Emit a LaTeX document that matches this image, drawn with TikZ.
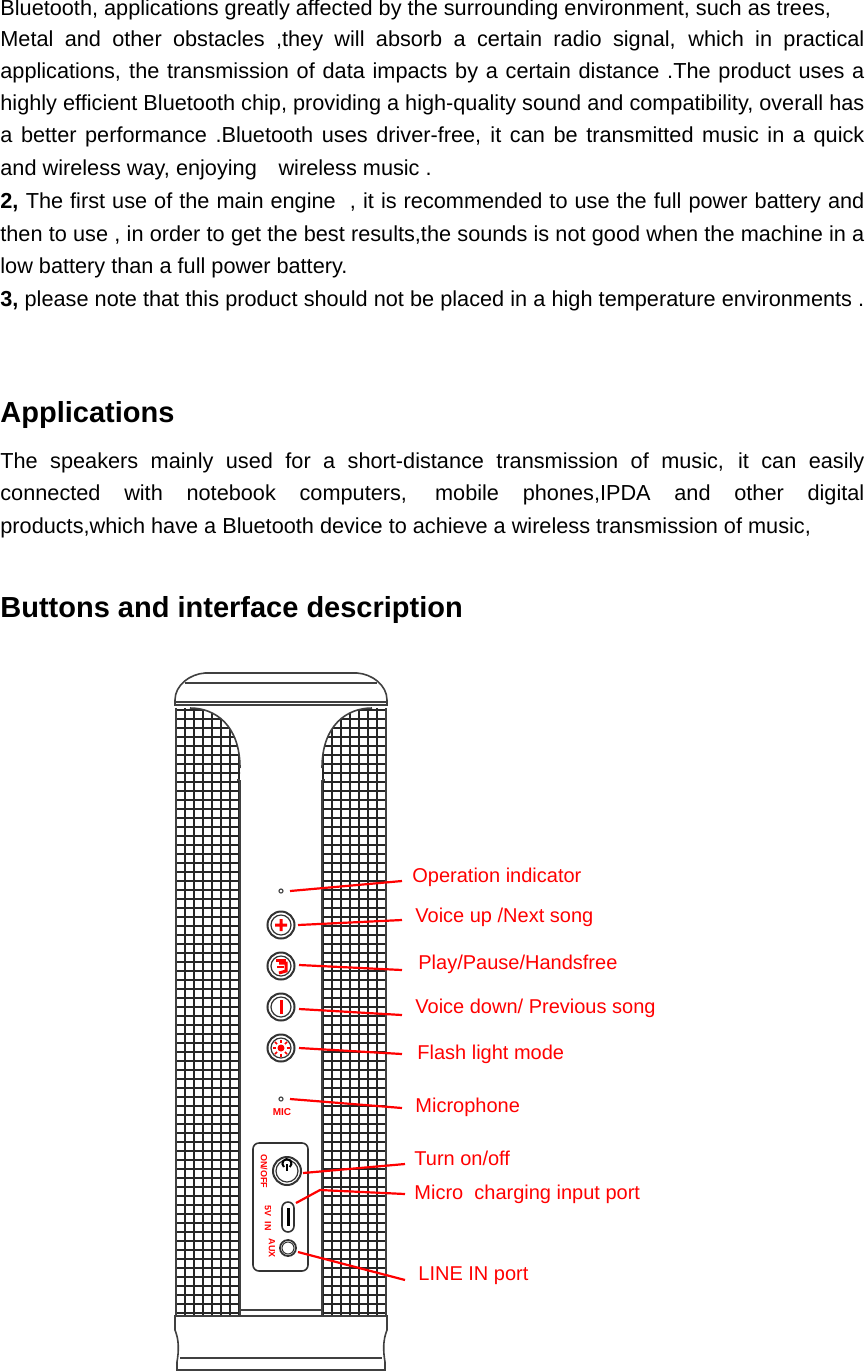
\documentclass[tikz,border=0pt]{standalone}
\usepackage{fontspec}
\setmainfont{Liberation Sans}
\begin{document}
\begin{tikzpicture}[x=0.5pt,y=-0.5pt,
  body/.style={anchor=west,inner sep=0,font=\fontsize{10.85pt}{12pt}\selectfont},
  head/.style={anchor=west,inner sep=0,font=\fontsize{14.5pt}{17pt}\selectfont\bfseries},
  lbl/.style={anchor=west,inner sep=0,text=red,font=\fontsize{10pt}{12pt}\selectfont},
  rl/.style={red,line width=1.1pt},
  outl/.style={draw=black!75,line width=0.8pt},
  grid/.style={black!85,line width=0.6pt}]
\useasboundingbox (0,0) rectangle (864,1372);
\newcommand{\jl}[1]{\makebox[432pt][s]{#1}}
\node[body] (t1) at (0,10) {Bluetooth, applications greatly affected by the surrounding environment, such as trees,};
\node[body] (t2) at (0,41) {\jl{Metal and other obstacles ,they will absorb a certain radio signal, which in practical}};
\node[body] (t3) at (0,73) {\jl{applications, the transmission of data impacts by a certain distance .The product uses a}};
\node[body] (t4) at (0,105) {\jl{highly efficient Bluetooth chip, providing a high-quality sound and compatibility, overall has}};
\node[body] (t5) at (0,137) {\jl{a better performance .Bluetooth uses driver-free, it can be transmitted music in a quick}};
\node[body] (t6) at (0,170) {and wireless way, enjoying\quad wireless music .};
\node[body] (t7) at (0,203) {\jl{\textbf{2,} The first use of the main engine\ \ , it is recommended to use the full power battery and}};
\node[body] (t8) at (0,236) {\jl{then to use , in order to get the best results,the sounds is not good when the machine in a}};
\node[body] (t9) at (0,268) {low battery than a full power battery.};
\node[body] (t10) at (0,301) {\jl{\textbf{3,} please note that this product should not be placed in a high temperature environments .}};
\node[head] (h1) at (0,415) {Applications};
\node[body] (a1) at (0,463) {\jl{The speakers mainly used for a short-distance transmission of music, it can easily}};
\node[body] (a2) at (0,495) {\jl{connected with notebook computers, mobile phones,IPDA and other digital}};
\node[body] (a3) at (0,528) {products,which have a Bluetooth device to achieve a wireless transmission of music,};
\node[head] (h2) at (0,610) {Buttons and interface description};
% grilles
\begin{scope}
\clip (176,708) -- (176,1316) -- (240,1316) -- (240,768) .. controls (240,725) and (215,708) .. (190,708) -- cycle;
\foreach \x in {176,185,...,242} \draw[grid] (\x,700) -- (\x,1320);
\foreach \y in {710,719,...,1320} \draw[grid] (170,\y) -- (245,\y);
\end{scope}
\begin{scope}
\clip (386,708) -- (386,1316) -- (322,1316) -- (322,768) .. controls (322,725) and (347,708) .. (372,708) -- cycle;
\foreach \x in {323,332,...,390} \draw[grid] (\x,700) -- (\x,1320);
\foreach \y in {710,719,...,1320} \draw[grid] (315,\y) -- (390,\y);
\end{scope}
\draw[outl] (176,708) -- (176,1316) (240,780) -- (240,1316) (322,780) -- (322,1316) (386,708) -- (386,1316);
\draw[outl] (240,768) .. controls (240,725) and (215,708) .. (190,708);
\draw[outl] (322,768) .. controls (322,725) and (347,708) .. (372,708);
\draw[outl] (237,780) -- (240,780) (322,780) -- (325,780);
% top cap
\draw[outl] (175,705) -- (175,700) .. controls (175,685) and (190,674) .. (205,673) -- (357,673) .. controls (372,674) and (387,685) .. (387,700) -- (387,705) -- cycle;
\draw[outl] (185,683) -- (377,683) (176,702) -- (386,702);
% bottom base
\draw[outl] (240,1310) -- (322,1310);
\draw[outl] (175,1316) -- (387,1316) -- (387,1330) .. controls (383,1340) and (383,1350) .. (385,1362) -- (385,1370) -- (177,1370) -- (177,1362) .. controls (179,1350) and (179,1340) .. (175,1330) -- cycle;
\draw[outl] (180,1358) -- (382,1358);
% buttons
\draw[black!70,line width=0.6pt] (281,891) circle (2);
\foreach \yy/\nm in {925/bp,966/bpl,1007/bm,1048/bf}{
  \node[draw=black!80,line width=1pt,circle,minimum size=27pt*0.5,inner sep=0] (\nm) at (281,\yy) {};
  \draw[black!80,line width=0.6pt] (281,\yy) circle (10);
}
\fill[red] (275,923.5) rectangle (287,926.5) (279.5,919) rectangle (282.5,931);
\fill[red] (279.5,1000) rectangle (282.5,1014);
\fill[red] (281,1048) circle (3.5);
\foreach \a in {0,45,...,315} \draw[red,line width=0.8pt] (281,1048) ++(\a:5.5) -- ++(\a:3);
\fill[red] (276,959) rectangle (286,962);
\draw[red,line width=1.5pt] (279,963) -- (286,963) -- (286,971) -- (279,973);
\draw[red,line width=1pt] (277,967) -- (284,967);
\draw[black!70,line width=0.6pt] (281,1099) circle (2);
\node[inner sep=0,text=red,font=\fontsize{5pt}{6pt}\selectfont\bfseries] (mic) at (282,1112) {MIC};
% panel
\draw[black!80,line width=0.8pt,rounded corners=3pt] (253,1143) rectangle (308,1271);
\draw[black!80,line width=1pt] (287,1171) circle (14);
\draw[black!80,line width=0.6pt] (287,1171) circle (11);
\draw[black,line width=1pt] (284,1167) arc (130:410:4.5);
\draw[black,line width=1pt] (287,1164) -- (287,1171);
\node[inner sep=0,text=red,rotate=-90,font=\fontsize{4.5pt}{5pt}\selectfont\bfseries] (onoff) at (264,1171) {ON/OFF};
\draw[black!80,line width=0.8pt,rounded corners=3pt] (282,1202) rectangle (294,1232);
\fill[black] (286.5,1208) rectangle (289.5,1226);
\node[inner sep=0,text=red,rotate=-90,font=\fontsize{4.5pt}{5pt}\selectfont\bfseries] (fv) at (268,1218) {5V\ \ IN};
\draw[black!80,line width=0.9pt] (288,1248) circle (8);
\draw[black!80,line width=0.5pt] (288,1248) circle (6);
\node[inner sep=0,text=red,rotate=-90,font=\fontsize{4.5pt}{5pt}\selectfont\bfseries] (aux) at (272,1248) {AUX};
% labels and leaders
\node[lbl] (l1) at (412,877) {Operation indicator};
\node[lbl] (l2) at (415,917) {Voice up /Next song};
\node[lbl] (l3) at (418,964) {Play/Pause/Handsfree};
\node[lbl] (l4) at (415,1008) {Voice down/ Previous song};
\node[lbl] (l5) at (417,1054) {Flash light mode};
\node[lbl] (l6) at (415,1107) {Microphone};
\node[lbl] (l7) at (414,1158) {Turn on/off};
\node[lbl] (l8) at (414,1194) {Micro\ \ charging input port};
\node[lbl] (l9) at (418,1276) {LINE IN port};
\coordinate (c1) at (290,891); \coordinate (c2) at (298,925); \coordinate (c3) at (299,965);
\coordinate (c4) at (299,1009); \coordinate (c5) at (299,1048); \coordinate (c6) at (290,1099);
\coordinate (c7) at (303,1173); \coordinate (c8) at (296,1203); \coordinate (c9) at (298,1252);
\draw[rl] (c1) -- (402,881);
\draw[rl] (c2) -- (402,920);
\draw[rl] (c3) -- (402,970);
\draw[rl] (c4) -- (402,1015);
\draw[rl] (c5) -- (402,1054);
\draw[rl] (c6) -- (402,1108);
\draw[rl] (c7) -- (405,1164);
\draw[rl] (c8) -- (320,1190) -- (405,1194);
\draw[rl] (c9) -- (405,1280);
\end{tikzpicture}
\end{document}
